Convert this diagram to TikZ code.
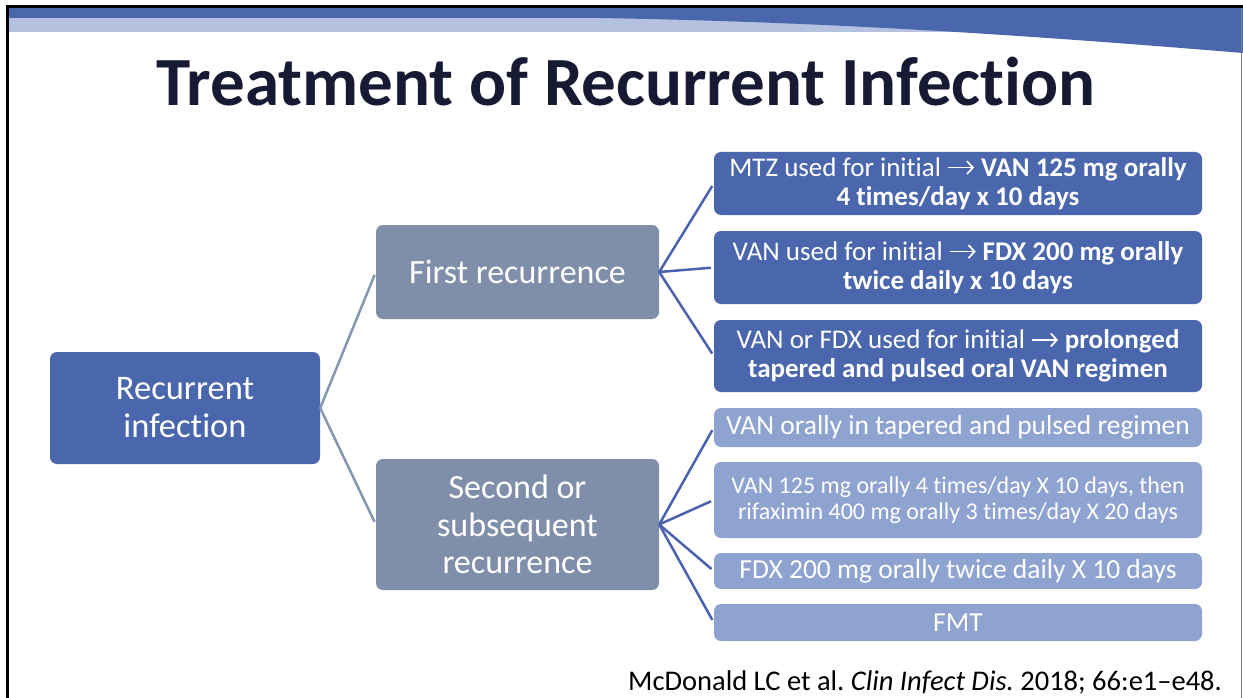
\documentclass[tikz,border=0pt]{standalone}
\usepackage{fontspec}
\usetikzlibrary{arrows.meta}
\setmainfont{Carlito}[Ligatures={NoCommon}]
\frenchspacing
\definecolor{deepblue}{HTML}{4A66AC}
\definecolor{slateblue}{HTML}{7F8FA9}
\definecolor{paleblue}{HTML}{8FA3D1}
\definecolor{bandlight}{HTML}{B4C2E0}
\definecolor{titlenavy}{HTML}{161A33}
\definecolor{rootline}{HTML}{8497B0}
\definecolor{leafline}{HTML}{4A62B0}
% inline "leads to" arrow used inside the treatment boxes
\newcommand{\toarrow}{\tikz[baseline={(0pt,-8.5pt)}]\draw[white, line width=1.7pt,
  -{Straight Barb[length=6pt,width=13pt,line width=1.7pt]}] (0pt,0pt) -- (26pt,0pt);}
\tikzset{
  box/.style={rounded corners=7pt, text=white, align=center, inner sep=0pt},
  rootbox/.style={box, fill=deepblue, minimum width=270pt, minimum height=112pt,
    font=\fontsize{34.5}{38}\selectfont},
  midbox/.style={box, fill=slateblue, minimum width=283pt,
    font=\fontsize{34}{37.5}\selectfont},
  leafdark/.style={box, fill=deepblue, minimum width=488pt,
    font=\fontsize{27}{29.5}\selectfont},
  leaflight/.style={box, fill=paleblue, minimum width=488pt,
    font=\fontsize{27.5}{29}\selectfont},
  rootlink/.style={draw=rootline, line width=2.5pt, shorten >=3pt},
  leaflink/.style={draw=leafline, line width=2.5pt, shorten >=3pt},
}
\begin{document}
\begin{tikzpicture}[x=1pt, y=-1pt]
\useasboundingbox (0,0) rectangle (1243,698);
\fill[white] (0,0) rectangle (1243,698);

% header bands
\fill[bandlight] (9,18) rectangle (1243,32);
\fill[deepblue] (9,8) -- (1243,8) -- (1243,53)
  .. controls (1000,33) and (820,22) .. (600,18) -- (9,18) -- cycle;

% slide frame
\draw[black, line width=3pt] (7.5,698) -- (7.5,6.5) -- (1243,6.5);
\draw[gray, line width=1pt] (1241.5,8) -- (1241.5,698);

% title
\node[font=\fontsize{69}{80}\selectfont\bfseries, text=titlenavy] (title) at (626,82) {Treatment of Recurrent Infection};

% tree
\node[rootbox] (root) at (185,408) {Recurrent\\infection};
\node[midbox, minimum height=94pt] (first) at (517.5,272) {First recurrence};
\node[midbox, minimum height=131pt] (second) at (517.5,524.5) {Second or\\subsequent\\recurrence};

\node[leafdark, minimum height=63pt] (a) at (958,183.5)
  {MTZ used for initial \toarrow{} \textbf{VAN 125 mg orally}\\\textbf{4 times/day x 10 days}};
\node[leafdark, minimum height=73pt] (b) at (958,267.5)
  {VAN used for initial \toarrow{} \textbf{FDX 200 mg orally}\\\textbf{twice daily x 10 days}};
\node[leafdark, minimum height=72pt] (c) at (958,356)
  {VAN or FDX used for initial \toarrow{} \textbf{prolonged}\\\textbf{tapered and pulsed oral VAN regimen}};

\node[leaflight, minimum height=39pt] (d) at (958,427.5) {VAN orally in tapered and pulsed regimen};
\node[leaflight, minimum height=76pt, font=\fontsize{24}{26.5}\selectfont] (e) at (958,500)
  {VAN 125 mg orally 4 times/day X 10 days, then\\rifaximin 400 mg orally 3 times/day X 20 days};
\node[leaflight, minimum height=36pt] (f) at (958,571) {FDX 200 mg orally twice daily X 10 days};
\node[leaflight, minimum height=37pt] (g) at (958,622.5) {FMT};

\draw[rootlink] (root.east) -- (first.west);
\draw[rootlink] (root.east) -- (second.west);
\foreach \t in {a,b,c} \draw[leaflink] (first.east) -- (\t.west);
\foreach \t in {d,e,f,g} \draw[leaflink] (second.east) -- (\t.west);

% reference line
\node[anchor=base east, font=\fontsize{28.5}{32}\selectfont, inner sep=0pt] (cite) at (1222,690)
  {McDonald LC et al. \textit{Clin Infect Dis.} 2018; 66:e1–e48.};
\end{tikzpicture}
\end{document}
